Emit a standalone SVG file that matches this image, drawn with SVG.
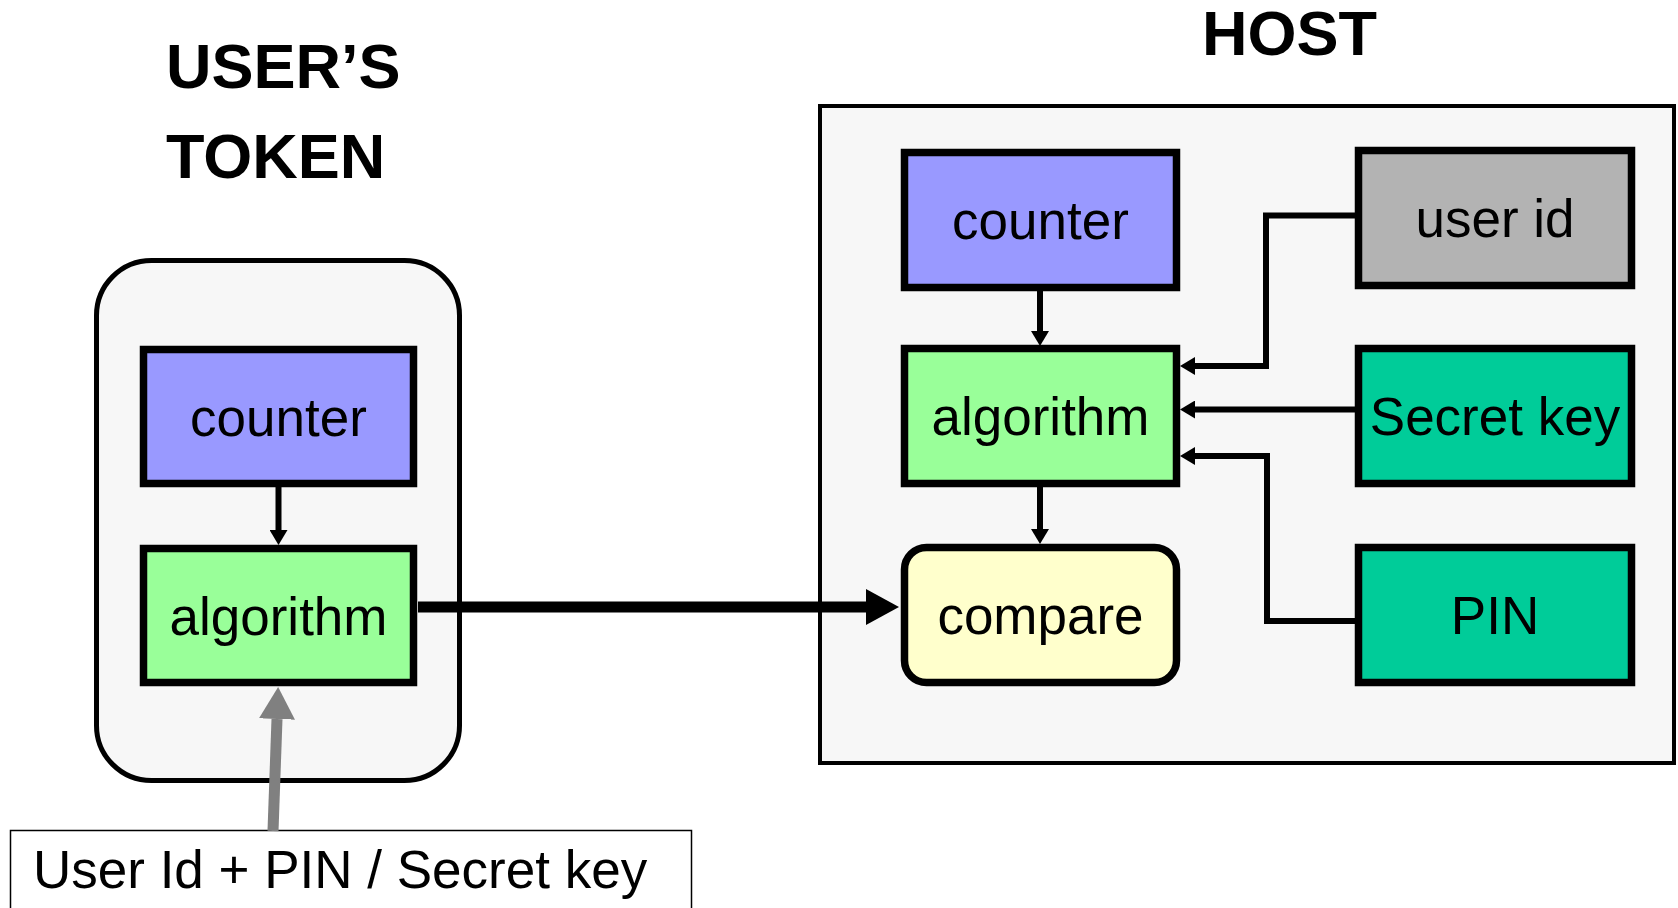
<svg xmlns="http://www.w3.org/2000/svg" width="1678" height="908" viewBox="0 0 1678 908">
<style>
  .lbl{font-family:"Liberation Sans",Arial,sans-serif;font-size:53px;fill:#000;text-anchor:middle}
  .title{font-family:"Liberation Sans",Arial,sans-serif;font-size:63px;font-weight:bold;fill:#000}
  .box{stroke:#000;stroke-width:7.5}
  .conn{fill:none;stroke:#000;stroke-width:6;stroke-linejoin:miter}
</style>
<defs>
  <marker id="ah" viewBox="0 0 15 18" refX="0" refY="9" markerWidth="15" markerHeight="18" markerUnits="userSpaceOnUse" orient="auto">
    <path d="M0,0 L15,9 L0,18 Z" fill="#000"/>
  </marker>
  <marker id="ahBig" viewBox="0 0 33 36" refX="0" refY="18" markerWidth="33" markerHeight="36" markerUnits="userSpaceOnUse" orient="auto">
    <path d="M0,0 L33,18 L0,36 Z" fill="#000"/>
  </marker>
  <marker id="ahGray" viewBox="0 0 32 36" refX="0" refY="18" markerWidth="32" markerHeight="36" markerUnits="userSpaceOnUse" orient="auto">
    <path d="M0,0 L32,18 L0,36 Z" fill="#808080"/>
  </marker>
</defs>
<rect width="1678" height="908" fill="#fff"/>

<g id="titles">
  <text class="title" x="166" y="88">USER’S</text>
  <text class="title" x="166" y="178">TOKEN</text>
  <text class="title" x="1202" y="55">HOST</text>
</g>

<g id="token">
  <rect x="96.5" y="260.5" width="363" height="520" rx="55" fill="#f7f7f7" stroke="#000" stroke-width="5"/>
</g>
<g id="host">
  <rect x="820" y="106" width="854" height="657" fill="#f7f7f7" stroke="#000" stroke-width="4"/>
</g>

<g id="token-counter">
  <rect class="box" x="143.5" y="349.5" width="270" height="134" fill="#9999ff"/>
  <text class="lbl" x="278.5" y="435.5">counter</text>
</g>
<g id="token-algorithm">
  <rect class="box" x="143.5" y="548.5" width="270" height="134" fill="#99ff99"/>
  <text class="lbl" x="278.5" y="634.5">algorithm</text>
</g>

<g id="host-counter">
  <rect class="box" x="904.5" y="152.5" width="272" height="135" fill="#9999ff"/>
  <text class="lbl" x="1040.5" y="239">counter</text>
</g>
<g id="host-algorithm">
  <rect class="box" x="904.5" y="348.5" width="272" height="135" fill="#99ff99"/>
  <text class="lbl" x="1040.5" y="435">algorithm</text>
</g>
<g id="compare">
  <rect class="box" x="904.5" y="547.5" width="272" height="135" rx="22" fill="#ffffcc"/>
  <text class="lbl" x="1040.5" y="634">compare</text>
</g>
<g id="user-id">
  <rect class="box" x="1358.5" y="150.5" width="273" height="135" fill="#b3b3b3"/>
  <text class="lbl" x="1495" y="237">user id</text>
</g>
<g id="secret-key">
  <rect class="box" x="1358.5" y="348.5" width="273" height="135" fill="#00cc99"/>
  <text class="lbl" x="1495" y="435">Secret key</text>
</g>
<g id="pin">
  <rect class="box" x="1358.5" y="547.5" width="273" height="135" fill="#00cc99"/>
  <text class="lbl" x="1495" y="634">PIN</text>
</g>

<g id="input-box">
  <rect x="10.5" y="830.5" width="681" height="120" fill="#fff" stroke="#000" stroke-width="1.5"/>
  <text class="lbl" x="33" y="888" style="text-anchor:start">User Id + PIN / Secret key</text>
</g>

<g id="connectors">
  <line class="conn" x1="278.5" y1="487" x2="278.5" y2="530" marker-end="url(#ah)"/>
  <line class="conn" x1="1040" y1="291" x2="1040" y2="331" marker-end="url(#ah)"/>
  <line class="conn" x1="1040" y1="487" x2="1040" y2="529" marker-end="url(#ah)"/>
  <path class="conn" d="M1355,215.5 H1266 V366 H1195" marker-end="url(#ah)"/>
  <path class="conn" d="M1355,409.5 H1195" marker-end="url(#ah)"/>
  <path class="conn" d="M1355,621 H1267 V456 H1195" marker-end="url(#ah)"/>
  <line x1="418" y1="607" x2="866" y2="607" stroke="#000" stroke-width="11" marker-end="url(#ahBig)"/>
  <line x1="273" y1="831" x2="277" y2="719" stroke="#808080" stroke-width="11" marker-end="url(#ahGray)"/>
</g>
</svg>
